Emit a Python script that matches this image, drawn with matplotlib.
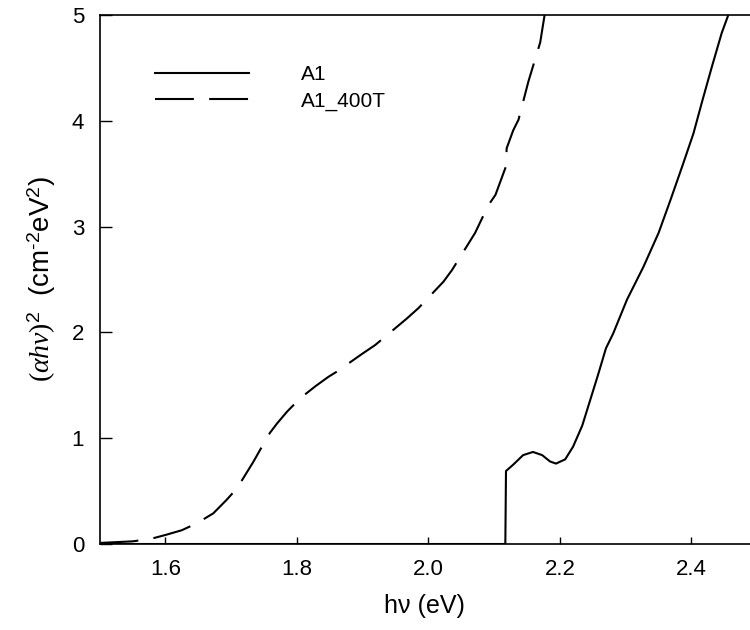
import matplotlib
matplotlib.use("Agg")
import matplotlib.pyplot as plt

plt.rcParams['font.family'] = ['Liberation Sans', 'DejaVu Sans']
plt.rcParams['mathtext.fontset'] = 'custom'
plt.rcParams['mathtext.it'] = 'Liberation Serif:italic'
plt.rcParams['mathtext.rm'] = 'Liberation Serif'
plt.rcParams['mathtext.sf'] = 'Liberation Sans'
plt.rcParams['lines.scale_dashes'] = False

# A1 (solid)
a1_x = [1.50, 2.117, 2.118, 2.129, 2.144, 2.159, 2.173, 2.185, 2.194, 2.208, 2.220,
        2.234, 2.246, 2.258, 2.270, 2.281, 2.302, 2.327, 2.350, 2.368, 2.386,
        2.403, 2.417, 2.431, 2.446, 2.456, 2.458]
a1_y = [0.0, 0.0, 0.69, 0.75, 0.84, 0.87, 0.84, 0.78, 0.76, 0.80, 0.92,
        1.12, 1.36, 1.60, 1.85, 1.99, 2.31, 2.62, 2.94, 3.25, 3.57,
        3.88, 4.20, 4.51, 4.83, 5.00, 5.05]

# A1_400T (dashed)
b_x = [1.50, 1.55, 1.577, 1.60, 1.625, 1.648, 1.673, 1.693, 1.709, 1.734, 1.744,
       1.759, 1.770, 1.785, 1.805, 1.828, 1.848, 1.861, 1.899, 1.919, 1.967,
       1.985, 2.023, 2.036, 2.061, 2.071, 2.091, 2.102, 2.118, 2.119, 2.129,
       2.137, 2.152, 2.170, 2.178]
b_y = [0.01, 0.025, 0.047, 0.085, 0.13, 0.196, 0.29, 0.416, 0.526, 0.778, 0.888,
       1.05, 1.14, 1.25, 1.377, 1.49, 1.58, 1.63, 1.796, 1.88, 2.13,
       2.23, 2.48, 2.59, 2.84, 2.94, 3.20, 3.30, 3.57, 3.74, 3.91,
       4.01, 4.37, 4.74, 5.05]

xticks = [1.6, 1.8, 2.0, 2.2, 2.4]
xtick_labels = ['1.6', '1.8', '2.0', '2.2', '2.4']
yticks = [0, 1, 2, 3, 4, 5]

fig = plt.figure(figsize=(7.5, 6.3), dpi=100)
ax = fig.add_axes([0.1327, 0.1365, 0.8673, 0.8397])

ax.plot(a1_x, a1_y, color='black', lw=1.5, label='A1')
ax.plot(b_x, b_y, color='black', lw=1.5, linestyle=(0, (28, 11)), label='A1_400T')

ax.set_xlim(1.5, 2.489)
ax.set_ylim(0, 5)
ax.set_xticks(xticks)
ax.set_xticklabels(xtick_labels)
ax.set_yticks(yticks)
ax.tick_params(axis='both', direction='in', labelsize=16, width=1)
ax.tick_params(axis='x', length=5, pad=11)
ax.tick_params(axis='y', length=8.5, pad=11)
ax.spines['right'].set_visible(False)
for s in ['left', 'bottom', 'top']:
    ax.spines[s].set_linewidth(1.2)

ax.set_xlabel('hν (eV)', fontsize=18, labelpad=10)
ax.set_ylabel(r'$(\alpha h\nu)^{\mathsf{2}}$  (cm$^{\mathsf{‐2}}$eV$^{\mathsf{2}}$)',
              fontsize=20, labelpad=10)

leg = ax.legend(loc='upper left', bbox_to_anchor=(0.0853, 0.905), frameon=False,
                fontsize=15, handlelength=4.5, handletextpad=2.5, labelspacing=0.35,
                borderpad=0, borderaxespad=0)

fig.savefig('out.png', dpi=100)
